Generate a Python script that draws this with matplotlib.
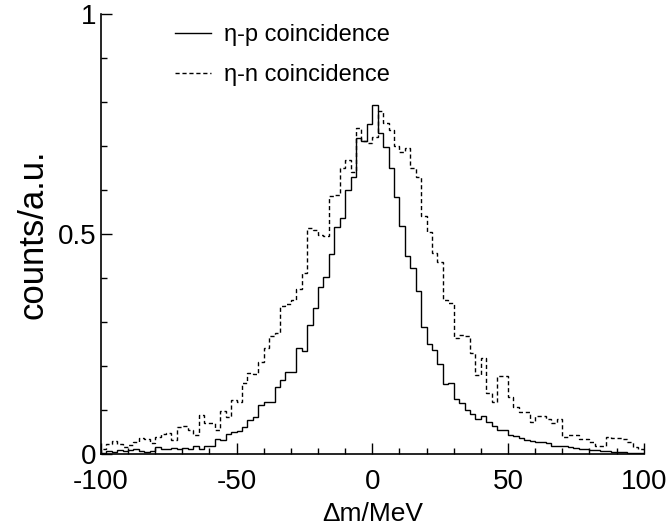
import numpy as np
import matplotlib
matplotlib.use('Agg')
import matplotlib.pyplot as plt
from matplotlib.ticker import MultipleLocator

plt.rcParams['font.family'] = ['Liberation Sans', 'DejaVu Sans']
plt.rcParams['axes.unicode_minus'] = False

# bin edges: 100 bins of 2 MeV from -100 to 100
edges = np.arange(-100, 101, 2)

eta_p = [0.002, 0.006, 0.004, 0.008, 0.006, 0.008, 0.010, 0.007, 0.004, 0.006,
         0.015, 0.010, 0.010, 0.014, 0.012, 0.013, 0.012, 0.019, 0.010, 0.019,
         0.018, 0.033, 0.032, 0.045, 0.050, 0.052, 0.060, 0.077, 0.083, 0.111,
         0.117, 0.119, 0.152, 0.168, 0.187, 0.186, 0.240, 0.233, 0.293, 0.331,
         0.379, 0.403, 0.455, 0.515, 0.536, 0.600, 0.629, 0.717, 0.711, 0.749,
         0.793, 0.729, 0.697, 0.649, 0.583, 0.517, 0.450, 0.422, 0.371, 0.289,
         0.249, 0.236, 0.204, 0.158, 0.161, 0.124, 0.115, 0.100, 0.090, 0.080,
         0.087, 0.073, 0.064, 0.055, 0.055, 0.043, 0.040, 0.035, 0.032, 0.030,
         0.028, 0.026, 0.024, 0.018, 0.018, 0.019, 0.016, 0.014, 0.011, 0.010,
         0.009, 0.009, 0.007, 0.006, 0.005, 0.004, 0.004, 0.003, 0.003, 0.002]

eta_n = [0.010, 0.022, 0.030, 0.022, 0.015, 0.020, 0.026, 0.036, 0.033, 0.025,
         0.039, 0.045, 0.048, 0.032, 0.062, 0.064, 0.055, 0.043, 0.089, 0.071,
         0.071, 0.055, 0.098, 0.083, 0.123, 0.117, 0.162, 0.183, 0.181, 0.208,
         0.240, 0.268, 0.274, 0.336, 0.341, 0.350, 0.374, 0.411, 0.513, 0.509,
         0.498, 0.494, 0.585, 0.589, 0.649, 0.668, 0.640, 0.740, 0.710, 0.707,
         0.720, 0.778, 0.752, 0.736, 0.700, 0.687, 0.695, 0.650, 0.630, 0.541,
         0.503, 0.456, 0.437, 0.350, 0.342, 0.263, 0.270, 0.268, 0.229, 0.180,
         0.217, 0.139, 0.119, 0.176, 0.176, 0.130, 0.107, 0.096, 0.096, 0.073,
         0.086, 0.086, 0.079, 0.070, 0.080, 0.039, 0.043, 0.042, 0.033, 0.033,
         0.026, 0.018, 0.018, 0.038, 0.035, 0.036, 0.033, 0.028, 0.015, 0.012]

fig = plt.figure(figsize=(6.72, 5.29), dpi=100)
ax = fig.add_axes([0.150, 0.142, 0.808, 0.832])

ax.stairs(eta_p, edges, color='black', linewidth=1.0, label='η-p coincidence')
ax.stairs(eta_n, edges, color='black', linewidth=1.0, linestyle=(0, (3, 2)),
          label='η-n coincidence')

ax.set_xlim(-100, 100)
ax.set_ylim(0, 1)
ax.xaxis.set_major_locator(MultipleLocator(50))
ax.xaxis.set_minor_locator(MultipleLocator(10))
ax.yaxis.set_minor_locator(MultipleLocator(0.1))
ax.set_yticks([0, 0.5, 1])
ax.set_yticklabels(['0', '0.5', '1'])
ax.tick_params(which='both', direction='in', labelsize=20, width=1.0)
ax.tick_params(axis='y', pad=3)
ax.tick_params(axis='x', pad=11)
ax.tick_params(which='major', length=8)
ax.tick_params(which='minor', length=4)
ax.spines['top'].set_visible(False)
ax.spines['right'].set_visible(False)
ax.spines['left'].set_linewidth(1.2)
ax.spines['bottom'].set_linewidth(1.2)

ax.set_xlabel('Δm/MeV', size=19, labelpad=5)
ax.set_ylabel('counts/a.u.', size=25, labelpad=6)

ax.legend(loc='upper left', bbox_to_anchor=(0.098, 1.025), frameon=False,
          fontsize=17, handlelength=1.5, handletextpad=0.55, labelspacing=0.78)

fig.savefig('out.png', dpi=100)
